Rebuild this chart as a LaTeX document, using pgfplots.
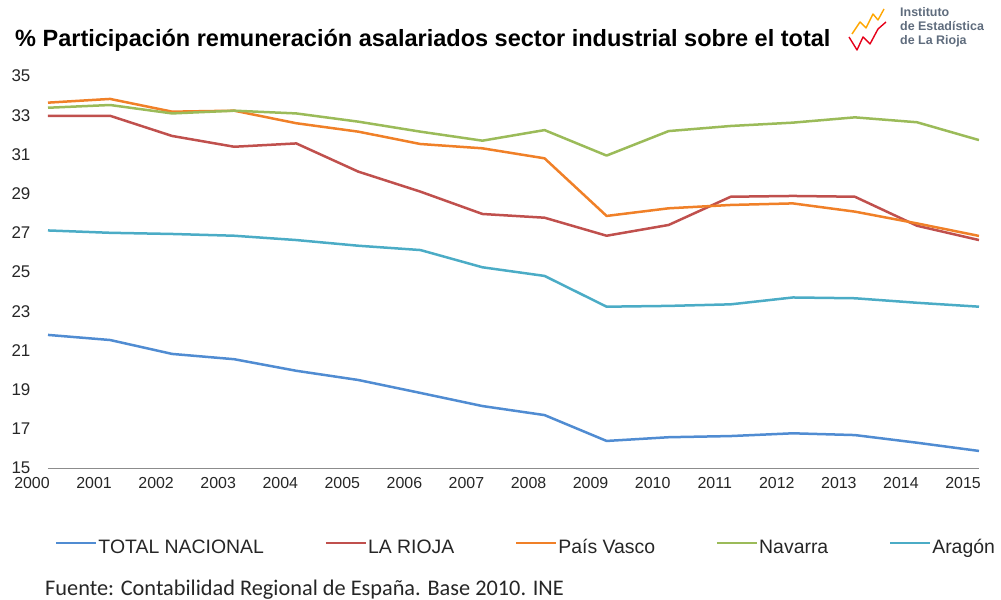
\documentclass[border=0pt]{standalone}
\usepackage{fontspec}
\setmainfont{Liberation Sans}
\newfontfamily\carlito{Carlito}
\usepackage{pgfplots}
\usepackage{pgfplotstable}
\pgfplotsset{compat=1.18}
\definecolor{blueL}{RGB}{80,140,210}
\definecolor{redL}{RGB}{192,80,77}
\definecolor{orangeL}{RGB}{240,128,40}
\definecolor{greenL}{RGB}{155,187,89}
\definecolor{cyanL}{RGB}{75,172,198}
\definecolor{logoT}{RGB}{95,108,125}
\pgfplotstableread{
year TN LR PV NA AR
2000 21.79 32.97 33.64 33.38 27.12
2001 21.53 32.97 33.83 33.52 27.00
2002 20.82 31.94 33.18 33.09 26.94
2003 20.55 31.39 33.23 33.23 26.85
2004 19.96 31.56 32.59 33.09 26.63
2005 19.49 30.12 32.16 32.67 26.34
2006 18.83 29.10 31.53 32.16 26.12
2007 18.16 27.96 31.31 31.70 25.24
2008 17.70 27.77 30.80 32.24 24.80
2009 16.38 26.85 27.86 30.94 23.23
2010 16.57 27.40 28.25 32.19 23.27
2011 16.63 28.84 28.42 32.45 23.35
2012 16.77 28.88 28.50 32.62 23.70
2013 16.68 28.84 28.08 32.89 23.66
2014 16.29 27.36 27.48 32.64 23.43
2015 15.87 26.63 26.84 31.73 23.23
}\datatable
\begin{document}
\begin{tikzpicture}
\path[use as bounding box] (0,0) rectangle (1001bp,600bp);
\begin{axis}[
  at={(48bp,132bp)}, anchor=south west,
  scale only axis, width=931bp, height=392bp,
  xmin=2000, xmax=2015, ymin=15, ymax=35,
  axis x line=bottom, axis y line=left,
  x axis line style={-, draw=black!45, line width=1bp},
  y axis line style={draw=none},
  tick style={draw=none},
  xtick={2000,2001,...,2015},
  ytick={15,17,...,35},
  /pgf/number format/assume math mode=true,
  /pgf/number format/1000 sep={},
  xticklabel style={font=\fontsize{16}{18}\selectfont, text=black!85, xshift=-16bp, yshift=-4bp},
  yticklabel style={font=\fontsize{17}{19}\selectfont, text=black!85, xshift=-12bp},
  legend columns=5,
  legend cell align=left,
  legend style={at={(0.0075,-0.206)}, anchor=west, draw=none, fill=none,
    inner sep=0pt, outer sep=0pt,
    font=\fontsize{19.5}{21}\selectfont, text=black!85,
    nodes={inner xsep=1bp, inner ysep=2bp, text height=14bp, text depth=4bp},
    /tikz/every even column/.append style={column sep=59.5bp}},
  legend image code/.code={\draw[#1] (0bp,5.5bp) -- (40bp,5.5bp);},
  every axis plot/.append style={line width=2.5bp, line join=round},
]
\addplot[blueL] table[x=year,y=TN] {\datatable};
\addplot[redL] table[x=year,y=LR] {\datatable};
\addplot[orangeL] table[x=year,y=PV] {\datatable};
\addplot[greenL] table[x=year,y=NA] {\datatable};
\addplot[cyanL] table[x=year,y=AR] {\datatable};
\legend{TOTAL NACIONAL, LA RIOJA, País Vasco, Navarra, Aragón}
\end{axis}
\node[anchor=west, inner sep=0pt, font=\bfseries\fontsize{23.6}{25}\selectfont] at (15bp,560bp)
  {\% Participación remuneración asalariados sector industrial sobre el total};
\node[anchor=west, inner sep=0pt, font=\carlito\fontsize{22.4}{24}\selectfont, text=black!85] at (45bp,10bp)
  {Fuente: Contabilidad Regional de España. Base 2010. INE};
% logo
\draw[orange!70!yellow, line width=1.4bp, line join=round] (852bp,566bp) -- (860bp,578bp) -- (866bp,572bp) -- (873bp,586bp) -- (878bp,580bp) -- (884bp,591bp);
\draw[red!60!purple, line width=1.4bp, line join=round] (849bp,563bp) -- (857bp,550bp) -- (863bp,563bp) -- (870bp,556bp) -- (878bp,571bp) -- (886bp,578bp);
\node[anchor=north west, inner sep=0pt, align=left, text=logoT, font=\bfseries\fontsize{12.5}{14}\selectfont] at (900bp,593bp)
  {Instituto\\de Estadística\\de La Rioja};
\end{tikzpicture}
\end{document}
